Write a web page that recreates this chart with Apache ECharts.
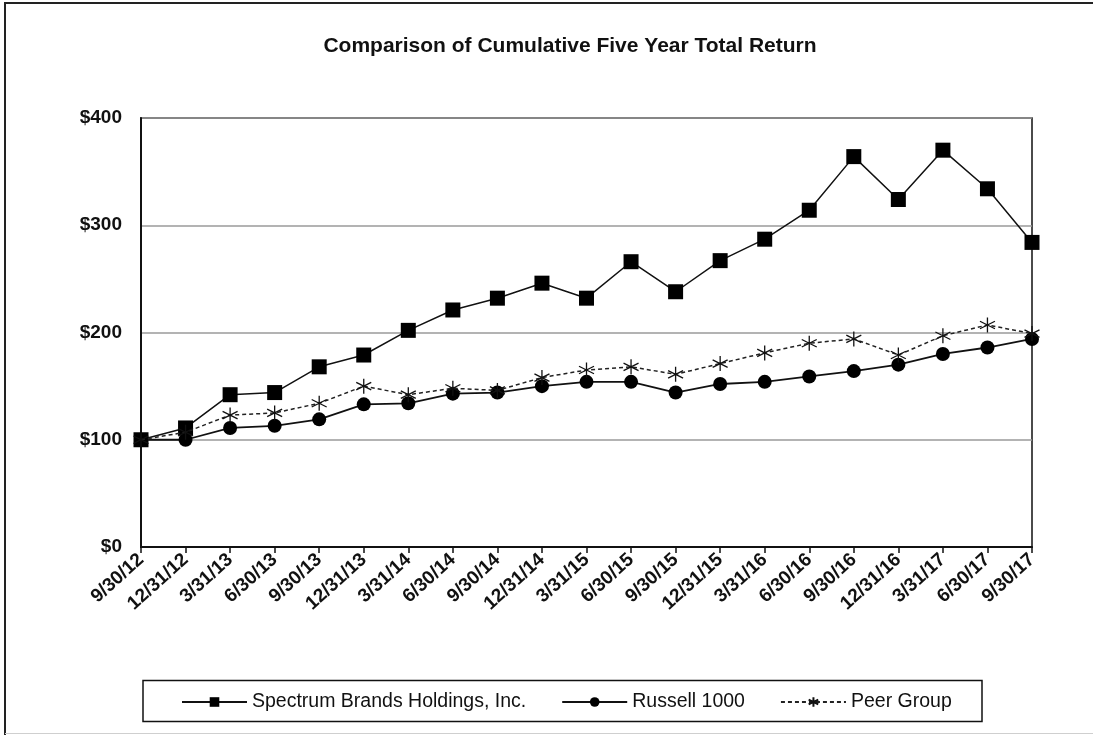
<!DOCTYPE html>
<html>
<head>
<meta charset="utf-8">
<script src="https://cdn.jsdelivr.net/npm/echarts@6/dist/echarts.min.js"></script>
<style>
html,body{margin:0;padding:0;background:#fff;}
#chart{width:1093px;height:735px;}
</style>
</head>
<body>
<div id="chart"></div>
<script>
var categories = ['9/30/12','12/31/12','3/31/13','6/30/13','9/30/13','12/31/13','3/31/14','6/30/14','9/30/14','12/31/14','3/31/15','6/30/15','9/30/15','12/31/15','3/31/16','6/30/16','9/30/16','12/31/16','3/31/17','6/30/17','9/30/17'];
var spectrum = [100,111,142,144,168,179,202,221,232,246,232,266,238,267,287,314,364,324,370,334,284];
var russell  = [100,100,111,113,119,133,134,143,144,150,154,154,144,152,154,159,164,170,180,186,194];
var peer     = [100,107,123,125,134,150,142,148,146,158,165,168,161,171,181,190,194,179,197,207,199];
var yTicks = [0,100,200,300,400];
var seriesNames = ['Spectrum Brands Holdings, Inc.','Russell 1000','Peer Group'];

var FONT = '"Liberation Sans", Arial, sans-serif';
var asterisk = 'path://M0,-10 L0,10 M-8.66,-5 L8.66,5 M-8.66,5 L8.66,-5';

var chart = echarts.init(document.getElementById('chart'), null, {renderer:'canvas'});
chart.setOption({
  animation: false,
  backgroundColor: '#fff',
  textStyle: {fontFamily: FONT},
  title: {
    text: 'Comparison of Cumulative Five Year Total Return',
    left: 565, top: 31, textAlign: 'center',
    textStyle: {fontFamily: FONT, fontSize: 21, fontWeight: 'bold', color: '#111'}
  },
  grid: {
    left: 141, top: 118, right: 61, bottom: 188,
    show: true, borderColor: '#111', borderWidth: 1.5, backgroundColor: 'transparent'
  },
  legend: {
    left: 181, top: 692, padding: 0,
    itemWidth: 65, itemHeight: 12, itemGap: 35,
    data: seriesNames,
    textStyle: {fontFamily: FONT, fontSize: 19.5, color: '#111'}
  },
  xAxis: {
    type: 'category', data: categories, boundaryGap: false,
    axisLine: {lineStyle: {color: '#111', width: 2}},
    axisTick: {show: true, alignWithLabel: true, length: 6, lineStyle: {color: '#111', width: 1.5}},
    axisLabel: {rotate: 42, margin: 10, interval: 0, fontFamily: FONT, fontSize: 19, fontWeight: 'bold', color: '#111'},
    splitLine: {show: false}
  },
  yAxis: {
    type: 'value', min: yTicks[0], max: yTicks[yTicks.length-1], interval: 100,
    axisLine: {show: true, lineStyle: {color: '#111', width: 2}},
    axisTick: {show: false},
    axisLabel: {margin: 19, fontFamily: FONT, fontSize: 19, fontWeight: 'bold', color: '#111', formatter: function(v){return '$' + v;}},
    splitLine: {show: true, lineStyle: {color: '#9a9a9a', width: 1.5}}
  },
  series: [
    {
      name: seriesNames[0], type: 'line', data: spectrum,
      symbol: 'rect', symbolSize: 15,
      lineStyle: {color: '#111', width: 1.5},
      itemStyle: {color: '#000'}, z: 3
    },
    {
      name: seriesNames[1], type: 'line', data: russell,
      symbol: 'circle', symbolSize: 14,
      lineStyle: {color: '#111', width: 1.8},
      itemStyle: {color: '#000'}, z: 4
    },
    {
      name: seriesNames[2], type: 'line', data: peer,
      symbol: asterisk, symbolSize: 15,
      lineStyle: {color: '#222', width: 1.5, type: [4,3]},
      itemStyle: {color: 'transparent', borderColor: '#111', borderWidth: 1.3}, z: 5
    }
  ],
  graphic: [
    {type: 'line', shape: {x1: 5, y1: 3, x2: 5, y2: 735}, style: {stroke: '#222', lineWidth: 2}},
    {type: 'line', shape: {x1: 4, y1: 3, x2: 1093, y2: 3}, style: {stroke: '#222', lineWidth: 2}},
    {type: 'line', shape: {x1: 5, y1: 733.5, x2: 1093, y2: 733.5}, style: {stroke: '#cfcfcf', lineWidth: 1}},
    {type: 'rect', shape: {x: 143, y: 680.5, width: 839, height: 41}, style: {fill: 'none', stroke: '#111', lineWidth: 1.5}, z: 1}
  ]
});
</script>
</body>
</html>
